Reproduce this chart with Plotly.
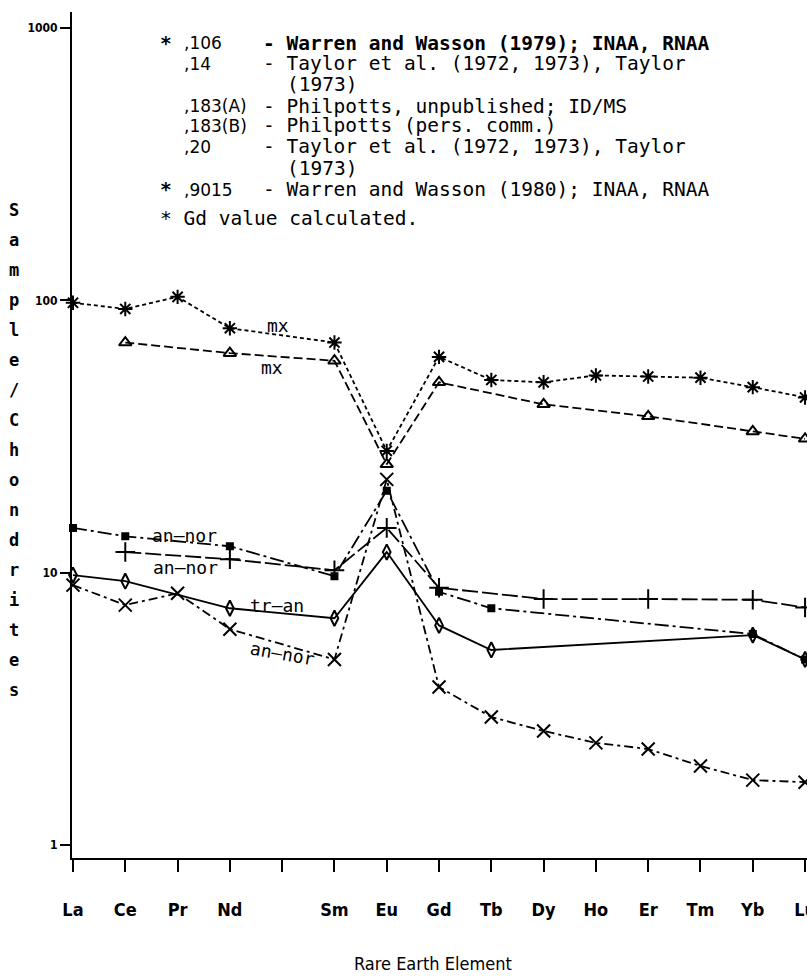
import plotly.graph_objects as go

# ---------------- data ----------------
elements = ["La", "Ce", "Pr", "Nd", "Pm", "Sm", "Eu", "Gd", "Tb", "Dy", "Ho", "Er", "Tm", "Yb", "Lu"]
tick_labels = ["La", "Ce", "Pr", "Nd", "", "Sm", "Eu", "Gd", "Tb", "Dy", "Ho", "Er", "Tm", "Yb", "Lu"]

s106_el = ["La", "Ce", "Pr", "Nd", "Sm", "Eu", "Gd", "Tb", "Dy", "Ho", "Er", "Tm", "Yb", "Lu"]
s106_val = [98, 93, 103, 79, 70, 28, 62, 51, 50, 53, 52.5, 52, 48, 44]

s14_el = ["Ce", "Nd", "Sm", "Eu", "Gd", "Dy", "Er", "Yb", "Lu"]
s14_val = [70, 64, 60, 25, 50, 41.5, 37.5, 33, 31]

s183a_el = ["La", "Ce", "Nd", "Sm", "Eu", "Gd", "Tb", "Yb", "Lu"]
s183a_val = [14.6, 13.6, 12.5, 9.7, 20, 8.5, 7.4, 5.95, 4.8]

s183b_el = ["Ce", "Nd", "Sm", "Eu", "Gd", "Dy", "Er", "Yb", "Lu"]
s183b_val = [11.9, 11.2, 10.2, 14.6, 8.8, 8.0, 8.0, 7.95, 7.45]

s20_el = ["La", "Ce", "Nd", "Sm", "Eu", "Gd", "Tb", "Yb", "Lu"]
s20_val = [9.8, 9.3, 7.4, 6.8, 11.9, 6.4, 5.2, 5.9, 4.8]

s9015_el = ["La", "Ce", "Pr", "Nd", "Sm", "Eu", "Gd", "Tb", "Dy", "Ho", "Er", "Tm", "Yb", "Lu"]
s9015_val = [9.0, 7.6, 8.4, 6.2, 4.8, 22, 3.8, 2.95, 2.62, 2.37, 2.25, 1.95, 1.73, 1.70]

legend_ids = [",106", ",14", ",183(A)", ",183(B)", ",20", ",9015"]
legend_desc = ["- Warren and Wasson (1979); INAA, RNAA",
               "- Taylor et al. (1972, 1973), Taylor",
               "- Philpotts, unpublished; ID/MS",
               "- Philpotts (pers. comm.)",
               "- Taylor et al. (1972, 1973), Taylor",
               "- Warren and Wasson (1980); INAA, RNAA"]
footnote = "* Gd value calculated."
y_title = "Sample/Chondrites"
x_title = "Rare Earth Element"

# ---------------- figure ----------------
W, H = 807, 976
L, R, T, B = 72, 0, 12, 118
PW, PH = W - L - R, H - T - B


def px(x):
    return (x - L) / PW


def py(y):
    return (H - B - y) / PH


def xpos(els):
    return [elements.index(e) for e in els]


fig = go.Figure()
series = [
    (s106_el, s106_val, "asterisk-open", 12, "4px,3px"),
    (s14_el, s14_val, "triangle-up-open", 11, "9px,4px"),
    (s183a_el, s183a_val, "square", 6, "14px,4px,3px,4px"),
    (s183b_el, s183b_val, "cross-thin-open", 14, "16px,4px"),
    (s20_el, s20_val, "diamond-tall-open", 11, "solid"),
    (s9015_el, s9015_val, "x-thin-open", 13, "9px,4px,3px,4px"),
]
for els, vals, sym, size, dash in series:
    fig.add_trace(go.Scatter(
        x=xpos(els), y=vals, mode="lines+markers",
        line=dict(color="black", width=1.8, dash=dash),
        marker=dict(symbol=sym, size=size, color="black",
                    line=dict(color="black", width=2)),
        cliponaxis=False, showlegend=False))

mono = "DejaVu Sans Mono"
cond = "DejaVu Sans Condensed, " + mono
ann = []


def add_text(x, y, text, family=mono, size=19.5, xanchor="left", angle=0):
    ann.append(dict(x=px(x), y=py(y), xref="paper", yref="paper", text=text,
                    showarrow=False, xanchor=xanchor, yanchor="middle", textangle=angle,
                    font=dict(family=family, size=size, color="black")))


# legend block
id_rows = [43, 64, 106, 126, 147, 190]
for i, (sid, desc) in enumerate(zip(legend_ids, legend_desc)):
    yy = id_rows[i]
    add_text(182, yy, sid, family="DejaVu Sans", size=17)
    add_text(261, yy, "<b>" + desc + "</b>" if i == 0 else desc)
for yy in [43, 190]:
    add_text(158, yy, "<b>*</b>")
for yy in [84, 168]:
    add_text(285, yy, "(1973)")
add_text(158, 218, footnote)

# curve labels
labels = [("mx", 278, 325, 0), ("mx", 272, 367, 0), ("an\u2013nor", 184, 535, 0),
          ("an\u2013nor", 185, 567, 0), ("tr\u2013an", 277, 605, 0), ("an\u2013nor", 282, 653, 10)]
for txt, xx, yy, ang in labels:
    add_text(xx, yy, txt, size=18, xanchor="center", angle=ang)

# vertical y title, one letter per line
for i, ch in enumerate(y_title):
    add_text(14, 210 + 30 * i, "<b>" + ch + "</b>", size=17, xanchor="center")

add_text(433, 963, x_title, family=cond, size=18, xanchor="center")

fig.update_layout(
    width=W, height=H,
    margin=dict(l=L, r=R, t=T, b=B, pad=0, autoexpand=False),
    paper_bgcolor="white", plot_bgcolor="white",
    annotations=ann,
    xaxis=dict(range=[-0.019, 14.037], tickvals=list(range(len(elements))),
               ticktext=["<b>" + t + "</b>" if t else "" for t in tick_labels],
               showgrid=False, zeroline=False, showline=True, linecolor="black", linewidth=2,
               ticks="outside", ticklen=12, tickwidth=2, tickcolor="black",
               ticklabelstandoff=22, ticklabeloverflow="allow", automargin=False,
               tickfont=dict(family=cond, size=18, color="black")),
    yaxis=dict(type="log", range=[-0.048, 3.059], tickvals=[1, 10, 100, 1000],
               ticktext=["<b>1</b>", "<b>10</b>", "<b>100</b>", "<b>1000</b>"],
               showgrid=False, zeroline=False, showline=True, linecolor="black", linewidth=2,
               ticks="outside", ticklen=10, tickwidth=2, tickcolor="black", automargin=False,
               tickfont=dict(family=cond, size=12, color="black")),
)

fig.write_html("out.html")
